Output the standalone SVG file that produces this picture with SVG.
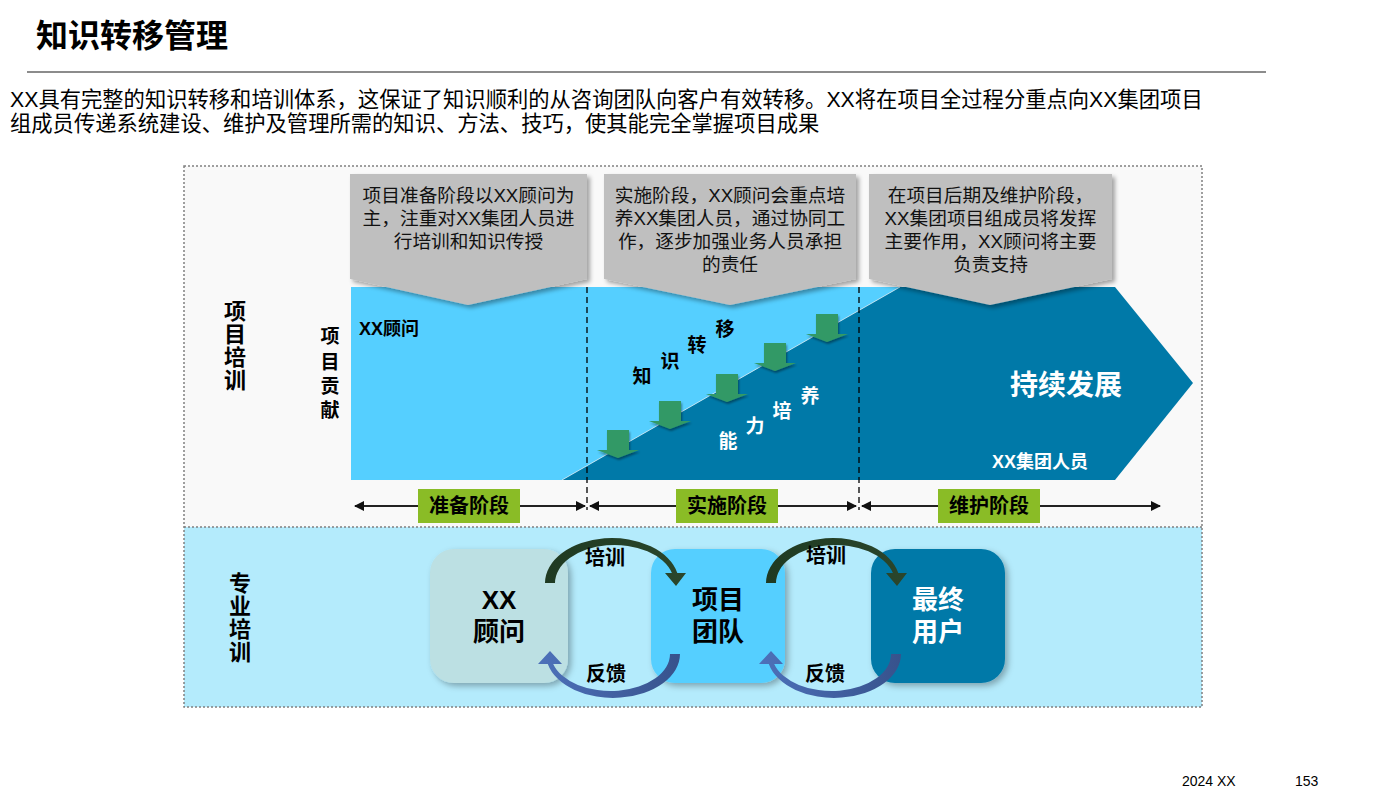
<svg xmlns="http://www.w3.org/2000/svg" width="1398" height="793" viewBox="0 0 1398 793">
<defs>
<style>
text{font-family:"Liberation Sans","Noto Sans CJK SC",sans-serif;}
.b{font-weight:bold;}
.co{font-size:18.7px;fill:#111;text-anchor:middle;}
.vl{font-size:22px;font-weight:bold;text-anchor:middle;fill:#000;}
.vs{font-size:19px;font-weight:bold;text-anchor:middle;fill:#000;}
.kt{font-size:19px;font-weight:bold;text-anchor:middle;fill:#000;}
.wt{font-size:19px;font-weight:bold;text-anchor:middle;fill:#fff;}
.ph{font-size:20px;font-weight:bold;text-anchor:middle;fill:#000;}
.bx{font-size:26px;font-weight:bold;text-anchor:middle;}
.al{font-size:20px;font-weight:bold;text-anchor:middle;fill:#000;}
.callout{fill:#BFBFBF;filter:url(#sh);}
.garrow{fill:#339966;filter:url(#sh2);}
.tl{stroke:#222;stroke-width:2;fill:none;marker-start:url(#ah);marker-end:url(#ah);}
.gbox{fill:#8ABC26;}
</style>
<filter id="sh" x="-10%" y="-10%" width="130%" height="130%">
<feDropShadow dx="3" dy="3" stdDeviation="2" flood-color="#000" flood-opacity="0.35"/>
</filter>
<filter id="sh2" x="-20%" y="-20%" width="150%" height="150%">
<feDropShadow dx="1" dy="2" stdDeviation="1" flood-color="#000" flood-opacity="0.4"/>
</filter>
<filter id="sh3" x="-10%" y="-10%" width="130%" height="130%">
<feDropShadow dx="3" dy="3" stdDeviation="3" flood-color="#000" flood-opacity="0.3"/>
</filter>
<marker id="ah" viewBox="0 0 10 10" refX="9" refY="5" markerWidth="5" markerHeight="5" orient="auto-start-reverse" markerUnits="strokeWidth">
<path d="M0,0 L10,5 L0,10 Z" fill="#111"/>
</marker>
<linearGradient id="gblue" x1="0" y1="0" x2="1" y2="0">
<stop offset="0" stop-color="#4D71BA"/>
<stop offset="1" stop-color="#37528C"/>
</linearGradient>
<linearGradient id="ggreen" x1="0" y1="0" x2="1" y2="0">
<stop offset="0" stop-color="#1F3A22"/>
<stop offset="1" stop-color="#2A462C"/>
</linearGradient>
</defs>

<!-- header -->
<g id="header">
<text x="36" y="47" class="b" font-size="32" fill="#000">知识转移管理</text>
<line x1="27" y1="72" x2="1266" y2="72" stroke="#666" stroke-width="1.5"/>
<text x="10" y="107" font-size="21.3" fill="#000">XX具有完整的知识转移和培训体系，这保证了知识顺利的从咨询团队向客户有效转移。XX将在项目全过程分重点向XX集团项目</text>
<text x="10" y="131" font-size="21.3" fill="#000">组成员传递系统建设、维护及管理所需的知识、方法、技巧，使其能完全掌握项目成果</text>
</g>

<!-- panels -->
<g id="panels">
<rect x="184" y="166" width="1018" height="361" fill="#F9F9F9"/>
<rect x="184" y="527" width="1018" height="180" fill="#B4EBFC"/>
<rect x="184" y="166" width="1018" height="541" fill="none" stroke="#808080" stroke-width="1.5" stroke-dasharray="2,2"/>
<line x1="184" y1="527" x2="1202" y2="527" stroke="#808080" stroke-width="1.5" stroke-dasharray="2,2"/>
</g>

<!-- side labels -->
<g id="label-project-training">
<text class="vl" x="235" y="319">项</text>
<text class="vl" x="235" y="342">目</text>
<text class="vl" x="235" y="365">培</text>
<text class="vl" x="235" y="388">训</text>
</g>
<g id="label-contribution">
<text class="vs" x="330" y="343">项</text>
<text class="vs" x="330" y="369">目</text>
<text class="vs" x="330" y="393">贡</text>
<text class="vs" x="330" y="417">献</text>
</g>
<g id="label-pro-training">
<text class="vl" x="240" y="591">专</text>
<text class="vl" x="240" y="614">业</text>
<text class="vl" x="240" y="637">培</text>
<text class="vl" x="240" y="660">训</text>
</g>

<!-- band -->
<g id="band">
<polygon points="351,287 900,287 562,480 351,480" fill="#55CFFF"/>
<polygon points="562,480 900,287 1115,287 1193,383 1115,480" fill="#0079A8"/>
<line x1="562" y1="480" x2="900" y2="287" stroke="#ffffff" stroke-opacity="0.6" stroke-width="1"/>
<text x="359" y="335" font-size="18" class="b" fill="#000">XX顾问</text>
<text x="1066" y="395" font-size="28" class="b" fill="#fff" text-anchor="middle">持续发展</text>
<text x="1040" y="468" font-size="18" class="b" fill="#fff" text-anchor="middle">XX集团人员</text>
</g>

<!-- green arrows -->
<g id="transfer-arrows">
<path class="garrow" d="M607,430 H629 V450 H639 L618,458 L597,450 H607 Z"/>
<path class="garrow" d="M659,401 H681 V421 H691 L670,429 L649,421 H659 Z"/>
<path class="garrow" d="M716,374 H738 V394 H748 L727,402 L706,394 H716 Z"/>
<path class="garrow" d="M764,343 H786 V363 H796 L775,371 L754,363 H764 Z"/>
<path class="garrow" d="M816,314 H838 V334 H848 L827,342 L806,334 H816 Z"/>
</g>

<g id="band-words">
<text class="kt" x="642" y="383">知</text>
<text class="kt" x="670" y="368">识</text>
<text class="kt" x="697" y="352">转</text>
<text class="kt" x="725" y="336">移</text>
<text class="wt" x="728" y="448">能</text>
<text class="wt" x="755" y="433">力</text>
<text class="wt" x="782" y="418">培</text>
<text class="wt" x="810" y="403">养</text>
</g>

<!-- callouts -->
<g id="callout-1">
<polygon class="callout" points="350,174 587,174 587,279 468,305 350,279"/>
<text class="co" x="468.5" y="202">项目准备阶段以XX顾问为</text>
<text class="co" x="468.5" y="225">主，注重对XX集团人员进</text>
<text class="co" x="468.5" y="248">行培训和知识传授</text>
</g>
<g id="callout-2">
<polygon class="callout" points="604,174 856,174 856,279 730,305 604,279"/>
<text class="co" x="730" y="202">实施阶段，XX顾问会重点培</text>
<text class="co" x="730" y="225">养XX集团人员，通过协同工</text>
<text class="co" x="730" y="248">作，逐步加强业务人员承担</text>
<text class="co" x="730" y="271">的责任</text>
</g>
<g id="callout-3">
<polygon class="callout" points="869,174 1112,174 1112,279 990,305 869,279"/>
<text class="co" x="990.5" y="202">在项目后期及维护阶段，</text>
<text class="co" x="990.5" y="225">XX集团项目组成员将发挥</text>
<text class="co" x="990.5" y="248">主要作用，XX顾问将主要</text>
<text class="co" x="990.5" y="271">负责支持</text>
</g>

<!-- dashed dividers -->
<g id="dividers">
<line x1="587" y1="287" x2="587" y2="510" stroke="#000" stroke-width="1.3" stroke-dasharray="6,4"/>
<line x1="859" y1="287" x2="859" y2="510" stroke="#000" stroke-width="1.3" stroke-dasharray="6,4"/>
</g>

<!-- bottom boxes -->
<g id="box-consultant">
<rect x="430" y="549" width="138" height="134" rx="24" fill="#BCE0E3" filter="url(#sh3)"/>
<text class="bx" x="499" y="609" fill="#000">XX</text>
<text class="bx" x="499" y="641" fill="#000">顾问</text>
</g>
<g id="box-team">
<rect x="651" y="549" width="134" height="134" rx="24" fill="#55CFFF" filter="url(#sh3)"/>
<text class="bx" x="718" y="609" fill="#000">项目</text>
<text class="bx" x="718" y="641" fill="#000">团队</text>
</g>
<g id="box-user">
<rect x="871" y="549" width="134" height="134" rx="24" fill="#0079A8" filter="url(#sh3)"/>
<text class="bx" x="938" y="609" fill="#fff">最终</text>
<text class="bx" x="938" y="641" fill="#fff">用户</text>
</g>

<!-- connectors -->
<g id="connectors">
<line class="tl" x1="355" y1="506" x2="585" y2="506"/>
<line class="tl" x1="590" y1="506" x2="856" y2="506"/>
<line class="tl" x1="862" y1="506" x2="1160" y2="506"/>
<path d="M545,583 A67 45 0 0 1 677.3,573 L686,573 L676,586 L665,573 L671.9,573 A59.5 38 0 0 0 555,583 Z" fill="url(#ggreen)"/>
<path d="M680,654 A67 44 0 0 1 547.8,664 L538,664 L550,651 L562,664 L553.2,664 A59.5 37 0 0 0 670,654 Z" fill="url(#gblue)"/>
<g transform="translate(221,0)">
<path d="M545,583 A67 45 0 0 1 677.3,573 L686,573 L676,586 L665,573 L671.9,573 A59.5 38 0 0 0 555,583 Z" fill="url(#ggreen)"/>
<path d="M680,654 A67 44 0 0 1 547.8,664 L538,664 L550,651 L562,664 L553.2,664 A59.5 37 0 0 0 670,654 Z" fill="url(#gblue)"/>
</g>
</g>

<g id="phase-prep">
<rect class="gbox" x="418" y="489" width="102" height="34"/>
<text class="ph" x="469" y="513">准备阶段</text>
</g>
<g id="phase-impl">
<rect class="gbox" x="676" y="489" width="102" height="34"/>
<text class="ph" x="727" y="513">实施阶段</text>
</g>
<g id="phase-maint">
<rect class="gbox" x="938" y="489" width="102" height="34"/>
<text class="ph" x="989" y="513">维护阶段</text>
</g>

<g id="arc-labels">
<text class="al" x="605" y="565">培训</text>
<text class="al" x="606" y="681">反馈</text>
<text class="al" x="826" y="563">培训</text>
<text class="al" x="825" y="681">反馈</text>
</g>

<g id="footer">
<text x="1182" y="786" font-size="14" fill="#000">2024 XX</text>
<text x="1295" y="786" font-size="14" fill="#000">153</text>
</g>
</svg>
